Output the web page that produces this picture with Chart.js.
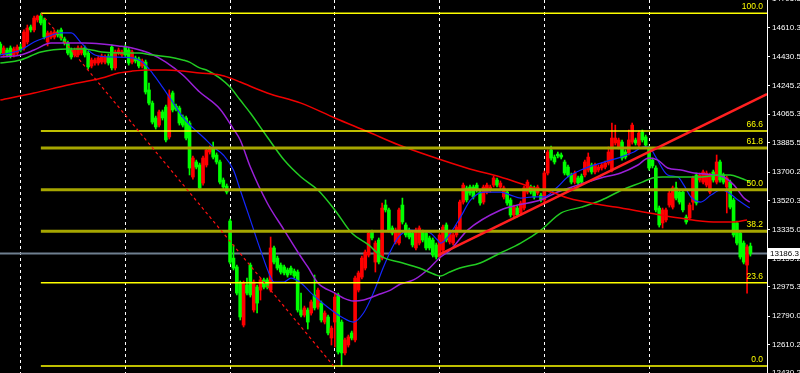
<!DOCTYPE html>
<html>
<head>
<meta charset="utf-8">
<script src="https://cdn.jsdelivr.net/npm/chart.js@4.4.0/dist/chart.umd.min.js"></script>
<style>
html,body{margin:0;padding:0;background:#000;}
#wrap{width:800px;height:373px;}
</style>
</head>
<body>
<div id="wrap"><canvas id="chart" width="800" height="373"></canvas></div>
<script>
// candles, one per bar index
const opens=[14509,14440,14471,14484,14440,14452,14490,14484,14522,14617,
14598,14661,14686,14661,14522,14553,14553,14585,14598,14541,
14515,14471,14440,14440,14452,14484,14452,14370,14389,14389,
14395,14395,14433,14490,14358,14452,14440,14490,14471,14395,
14421,14414,14370,14395,14219,14136,14042,13997,14080,14111,
13922,14200,14117,14105,14048,14042,14010,13669,13764,13745,
13631,13745,13827,13852,13808,13764,13650,13612,13391,13157,
13101,13000,12734,12987,13113,12829,12974,12955,13019,13019,
12955,13221,13157,13113,13101,13082,13094,13075,13069,12829,
12797,12829,12810,12924,12848,12873,12753,12785,12652,12753,
12924,12753,12558,12608,12684,12640,12955,13037,13094,13176,
13322,13132,13271,13157,13492,13461,13347,13259,13252,13492,
13366,13334,13315,13221,13252,13322,13315,13284,13271,13240,
13164,13208,13366,13259,13252,13303,13334,13511,13600,13606,
13606,13618,13574,13511,13574,13587,13618,13650,13606,13543,
13574,13524,13429,13473,13442,13473,13574,13606,13600,13568,
13555,13524,13694,13840,13795,13814,13808,13764,13732,13682,
13637,13663,13675,13682,13713,13745,13701,13713,13726,13732,
13757,13713,13884,13859,13890,13827,13821,13890,13903,13871,
13953,13922,13852,13776,13726,13473,13379,13398,13492,13479,
13600,13574,13574,13416,13410,13511,13682,13650,13637,13618,
13574,13701,13637,13764,13682,13606,13637,13524,13379,13315,
13252,13113,13233];
const highs=[14522,14497,14484,14497,14490,14503,14509,14598,14629,14629,
14686,14692,14703,14673,14591,14591,14598,14598,14610,14553,
14528,14484,14484,14497,14497,14497,14465,14421,14421,14433,
14446,14440,14446,14503,14471,14484,14471,14503,14484,14471,
14433,14427,14414,14408,14263,14149,14054,14092,14092,14124,
14219,14212,14130,14117,14061,14054,14023,13802,13776,13757,
13802,13852,13865,13890,13821,13776,13663,13625,13404,13240,
13113,13012,13012,13031,13126,13019,12987,13031,13031,13031,
13290,13233,13170,13126,13113,13094,13107,13088,13082,12936,
12854,12842,12892,13050,12968,12886,12823,12797,12728,12936,
12936,12766,12652,12671,12696,13044,13075,13170,13208,13328,
13334,13265,13284,13505,13524,13473,13360,13347,13473,13536,
13379,13347,13328,13347,13360,13334,13328,13296,13284,13252,
13315,13366,13379,13334,13315,13366,13524,13631,13612,13618,
13618,13631,13587,13618,13631,13618,13675,13663,13644,13612,
13587,13536,13492,13486,13517,13612,13650,13618,13612,13618,
13568,13707,13840,13865,13808,13827,13821,13776,13745,13694,
13707,13675,13688,13776,13821,13757,13757,13745,13757,13770,
13859,14010,13997,13915,13903,13840,13966,14010,13915,13960,
13966,13934,13865,13789,13739,13486,13473,13473,13581,13612,
13637,13587,13587,13429,13505,13675,13694,13694,13713,13707,
13694,13713,13808,13776,13694,13675,13650,13536,13391,13328,
13265,13240,13252];
const lows=[14440,14427,14427,14421,14427,14440,14459,14471,14509,14585,
14585,14648,14629,14541,14497,14541,14541,14553,14534,14503,
14440,14414,14427,14427,14440,14427,14351,14358,14376,14376,
14383,14383,14376,14345,14345,14440,14427,14427,14376,14383,
14389,14358,14358,14193,14124,14004,13972,13985,14029,13890,
13909,14080,14086,13997,13985,13903,13682,13656,13720,13587,
13618,13732,13814,13783,13751,13625,13593,13562,13120,13082,
12924,12766,12722,12924,12911,12816,12810,12892,12962,12962,
12943,13120,13082,13056,13050,13037,13050,13031,12816,12785,
12785,12709,12797,12829,12835,12753,12741,12671,12608,12595,
12551,12476,12545,12595,12640,12627,12943,13025,13082,13164,
13271,13069,13120,13145,13448,13322,13303,13246,13240,13372,
13290,13278,13227,13208,13240,13259,13208,13208,13164,13151,
13151,13195,13259,13246,13240,13290,13322,13498,13511,13555,
13530,13574,13492,13498,13562,13574,13606,13606,13593,13530,
13492,13416,13416,13416,13429,13461,13562,13562,13530,13555,
13511,13511,13682,13776,13751,13789,13783,13682,13669,13625,
13625,13618,13625,13669,13701,13688,13688,13701,13713,13720,
13745,13701,13871,13846,13776,13783,13808,13877,13871,13859,
13890,13859,13713,13726,13448,13353,13347,13385,13479,13467,
13524,13498,13448,13372,13398,13461,13492,13637,13625,13606,
13562,13637,13625,13637,13625,13442,13467,13290,13240,13151,
13120,12936,13170];
const closes=[14452,14484,14440,14433,14478,14490,14471,14585,14610,14598,
14673,14686,14642,14553,14579,14579,14585,14566,14547,14515,
14452,14427,14471,14484,14484,14440,14364,14408,14408,14421,
14433,14427,14389,14358,14459,14471,14459,14440,14389,14459,
14402,14370,14402,14206,14136,14016,13985,14080,14042,13903,
14187,14092,14099,14010,13997,13915,13726,13789,13732,13600,
13789,13840,13852,13795,13764,13637,13606,13574,13132,13094,
12936,12785,13000,12936,12924,13006,12873,13019,12974,12974,
13221,13132,13094,13069,13063,13050,13063,13044,12829,12797,
12842,12753,12880,12842,12955,12766,12810,12684,12715,12911,
12564,12558,12640,12659,12652,13031,13063,13157,13195,13315,
13284,13252,13132,13473,13461,13334,13315,13334,13461,13385,
13303,13290,13240,13334,13347,13271,13221,13221,13176,13164,
13303,13353,13271,13322,13303,13353,13511,13618,13524,13568,
13543,13587,13505,13606,13618,13606,13663,13618,13631,13600,
13505,13429,13479,13429,13505,13600,13637,13574,13543,13606,
13524,13694,13827,13789,13764,13802,13795,13694,13682,13637,
13694,13631,13637,13764,13795,13701,13745,13732,13745,13757,
13827,13915,13915,13903,13789,13795,13903,13997,13884,13947,
13903,13871,13726,13739,13461,13366,13461,13461,13568,13600,
13536,13511,13461,13385,13492,13663,13505,13682,13701,13694,
13682,13650,13764,13650,13637,13663,13479,13303,13252,13164,
13132,13227,13186.3];

// moving averages, [bar index, price]
const maBlue=[[0,14440],[6,14471],[10,14522],[13,14547],[18,14579],[21,14579],[24,14515],[28,14440],[33,14427],[39,14421],[42,14395],[45,14326],[48,14237],[51,14143],[54,14048],[57,13979],[60,13922],[63,13859],[66,13808],[69,13713],[71,13587],[74,13398],[77,13208],[80,13037],[81,13006],[84,13006],[86,13031],[89,13000],[92,12936],[95,12880],[98,12829],[101,12785],[104.5,12753],[107.5,12810],[110.4,12936],[113.4,13101],[116.4,13240],[118.4,13303],[121.4,13334],[124.4,13328],[127.3,13315],[129.4,13271],[130.3,13252],[132.4,13290],[136.2,13416],[139.2,13524],[143,13574],[148.1,13574],[151,13555],[154,13536],[157.8,13543],[160.8,13543],[164.9,13606],[167.9,13669],[171.8,13713],[177.7,13757],[183.6,13795],[187.5,13827],[190.4,13859],[191.9,13859],[194,13795],[197.5,13682],[200.5,13669],[202.3,13618],[204.4,13543],[207.3,13511],[210.3,13555],[213.3,13587],[215.3,13574],[218.3,13524],[221.8,13473]];
const maPurple=[[0,14427],[6,14440],[10,14471],[15,14515],[20,14515],[25,14515],[30,14509],[35,14497],[39,14484],[44,14452],[49,14395],[54,14313],[59,14206],[65,14099],[69,13972],[71,13903],[74,13732],[79,13505],[84,13334],[89,13164],[91,13101],[94,13000],[99,12936],[101.5,12905],[104.5,12886],[107.5,12892],[111.6,12924],[115.5,12955],[118.4,12993],[122.3,13019],[126.4,13082],[130.3,13164],[133.2,13208],[138.3,13334],[148.1,13461],[153.1,13492],[159.9,13524],[164.9,13574],[170.9,13618],[177.7,13663],[183.6,13694],[188.7,13745],[191.9,13789],[194.6,13776],[197.5,13726],[201.4,13713],[205.3,13694],[211.2,13682],[214.1,13669],[217.1,13618],[220.1,13536],[221.8,13511]];
const maGreen=[[0,14389],[6,14408],[12,14459],[20,14478],[25,14478],[30,14459],[36,14452],[41,14452],[45,14440],[50,14427],[54,14408],[56,14395],[59,14358],[61,14345],[65,14294],[68,14237],[71,14155],[74,14073],[79,13922],[84,13776],[89,13669],[94,13587],[99,13461],[104,13315],[109,13240],[113,13164],[118,13132],[124,13094],[129,13050],[130.3,13044],[133,13069],[136,13094],[142,13126],[148,13189],[154,13252],[160,13334],[166,13442],[172,13479],[178,13524],[184,13587],[190,13637],[193,13663],[196,13669],[201,13669],[207,13669],[213,13682],[216,13682],[219,13663],[222,13637]];
const maRed=[[0,14155],[10,14200],[20,14250],[30,14294],[35,14326],[39,14338],[44,14345],[49,14345],[54,14338],[59,14326],[65,14313],[68,14294],[71,14269],[79,14200],[89,14136],[99,14042],[109,13953],[118,13871],[128,13795],[138,13726],[148,13669],[158,13600],[164,13568],[168,13536],[178,13492],[182,13479],[192,13442],[201,13410],[211,13385],[217,13385],[221,13398]];

// fibonacci retracement
const fibLabels=['100.0','66.6','61.8','50.0','38.2','23.6','0.0'];
const fibPrices=[14703,13959,13852,13589,13327,13002,12476];
const fibStrong=[false,false,true,true,true,false,false];
const fibStart=12;
const fibDiag=[[12,14703],[98.6,12476]];
const trendLine=[[129.6,13176],[226.9,14193]];

const currentPrice=13186.3;
const yTicks=[14795.3,14610.3,14430.5,14245.2,14065.3,13885.5,13700.2,13520.3,13335.0,13155.2,12975.3,12790.0,12610.2,12430.2];
const gridBars=[6,37,68,99,130,161,192];

const X_MIN=-0.09, X_MAX=226.9, Y_MIN=12431.2, Y_MAX=14787.1;
const UP="#ff0000", DOWN="#00ff00";
const FONT="'Liberation Sans', Arial, sans-serif";

const wicks=[], bodies=[], candleColors=[];
opens.forEach((o,i)=>{
  const c=closes[i];
  candleColors.push(c>o?UP:DOWN);
  wicks.push({x:i,y:[lows[i],highs[i]]});
  bodies.push({x:i,y:[o,c]});
});

const pts=arr=>arr.map(p=>({x:p[0],y:p[1]}));
function lineSet(data,color,width,order,extra){
  return Object.assign({type:'line',data:data,borderColor:color,borderWidth:width,pointRadius:0,fill:false,order:order,tension:0},extra||{});
}

const datasets=[
  lineSet([{x:-1,y:currentPrice},{x:230,y:currentPrice}],'#6f7f8f',2,9),
  {type:'bar',data:wicks,backgroundColor:candleColors,barThickness:1,grouped:false,order:6},
  {type:'bar',data:bodies,backgroundColor:candleColors,barThickness:3,minBarLength:1,grouped:false,order:5},
  lineSet(pts(maRed),'#f00000',1.5,4,{cubicInterpolationMode:'monotone'}),
  lineSet(pts(maGreen),'#22cc22',1.5,4,{cubicInterpolationMode:'monotone'}),
  lineSet(pts(maPurple),'#9a20d8',1.5,4,{cubicInterpolationMode:'monotone'}),
  lineSet(pts(maBlue),'#1428ff',1.2,4,{cubicInterpolationMode:'monotone'}),
  lineSet(pts(fibDiag),'#ff1010',1.2,2,{borderDash:[3,3]}),
];
fibPrices.forEach((p,i)=>{
  datasets.push(lineSet([{x:fibStart,y:p},{x:230,y:p}],fibStrong[i]?'#a6a600':'#ffff00',fibStrong[i]?3:1.5,2));
});
datasets.push(lineSet(pts(trendLine),'#ff2020',2.6,1));

const bgPlugin={id:'bg',beforeDraw(c){const ctx=c.ctx;ctx.save();ctx.fillStyle='#000';ctx.fillRect(0,0,c.width,c.height);ctx.restore();}};

const labelPlugin={id:'labels',afterDraw(c){
  const ctx=c.ctx, y=c.scales.y, area=c.chartArea;
  ctx.save();
  ctx.font="8.5px "+FONT;
  ctx.fillStyle='#ffff00';
  ctx.textAlign='right';
  ctx.textBaseline='bottom';
  fibPrices.forEach((p,i)=>{ ctx.fillText(fibLabels[i],area.right-4,y.getPixelForValue(p)-2); });
  // current price box
  const py=y.getPixelForValue(currentPrice);
  ctx.fillStyle='#ffffff';
  ctx.fillRect(area.right,Math.round(py)-5,800-area.right,11);
  ctx.fillStyle='#000000';
  ctx.font="8px "+FONT;
  ctx.textAlign='left';
  ctx.textBaseline='middle';
  ctx.fillText(currentPrice.toFixed(1),area.right+3,Math.round(py)+0.5);
  ctx.restore();
}};

new Chart(document.getElementById('chart'),{
  type:'bar',
  data:{datasets:datasets},
  options:{
    responsive:false,
    animation:false,
    events:[],
    devicePixelRatio:1,
    layout:{padding:0},
    plugins:{legend:{display:false},tooltip:{enabled:false}},
    scales:{
      x:{
        type:'linear',min:X_MIN,max:X_MAX,offset:false,
        grid:{color:'#ffffff',lineWidth:1,drawTicks:false,offset:false},
        border:{display:false,dash:[3,3]},
        ticks:{display:false},
        afterBuildTicks:s=>{s.ticks=gridBars.map(v=>({value:v}));},
        afterFit:s=>{s.height=0;s.paddingLeft=0;s.paddingRight=0;}
      },
      y:{
        position:'right',min:Y_MIN,max:Y_MAX,
        grid:{drawOnChartArea:false,drawTicks:true,tickLength:3,color:'#ffffff'},
        border:{display:true,color:'#ffffff',width:1},
        ticks:{color:'#ffffff',font:{family:FONT,size:8},padding:2,autoSkip:false,callback:v=>Number(v).toFixed(1)},
        afterBuildTicks:s=>{s.ticks=yTicks.map(v=>({value:v}));},
        afterFit:s=>{s.width=33;s.paddingTop=0;s.paddingBottom=0;}
      }
    }
  },
  plugins:[bgPlugin,labelPlugin]
});
</script>
</body>
</html>
